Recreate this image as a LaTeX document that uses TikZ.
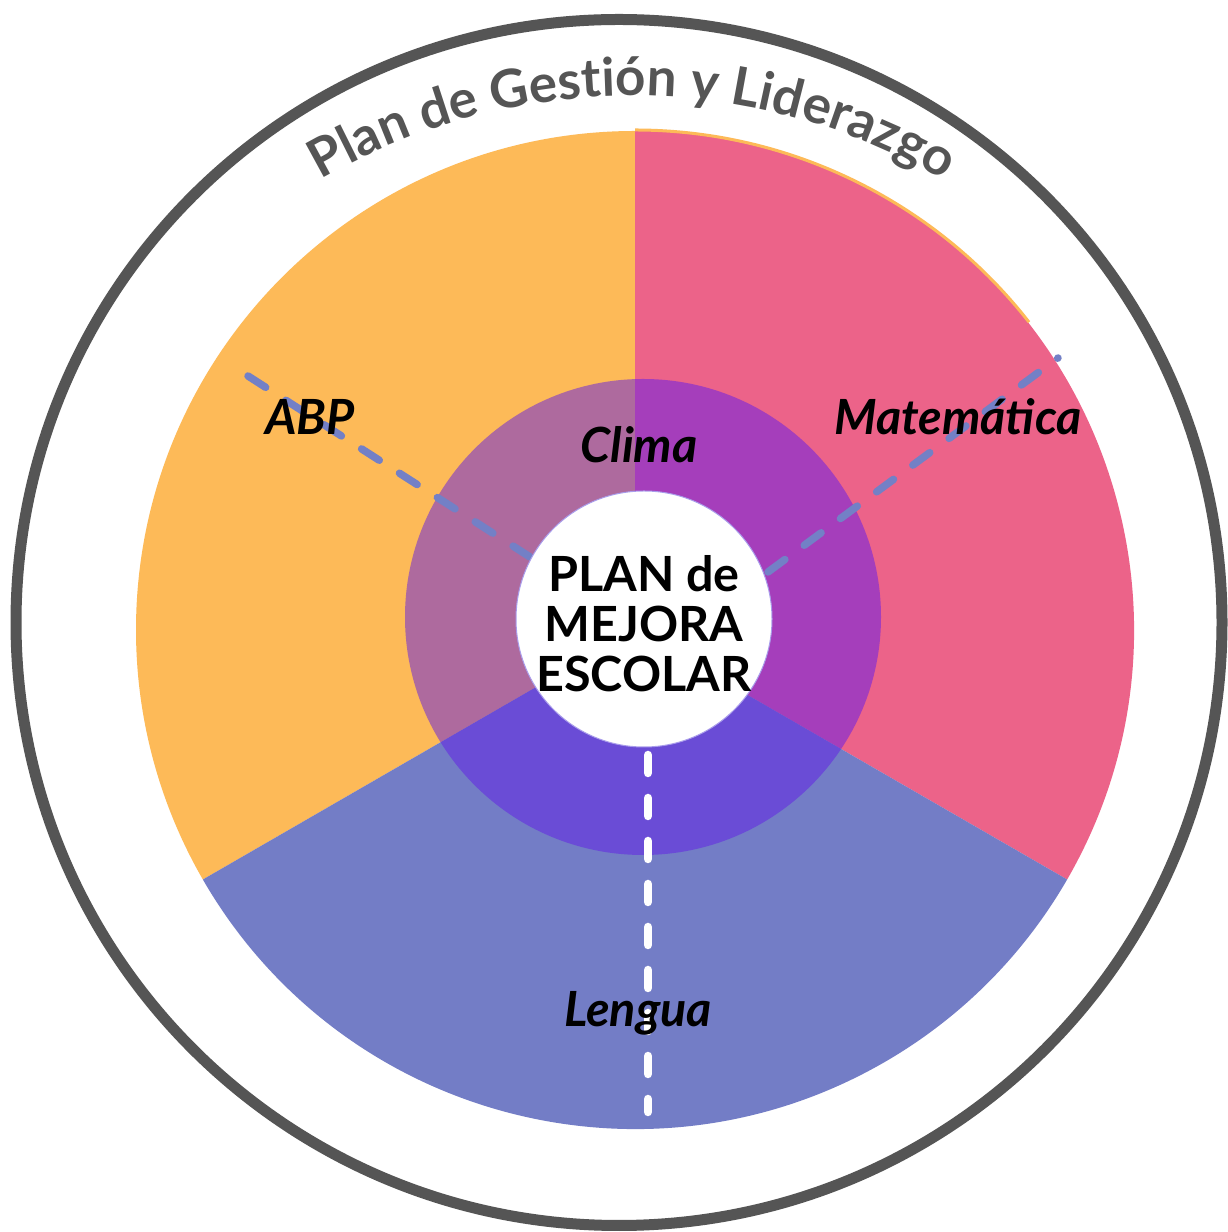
\documentclass[tikz,border=0pt]{standalone}
\usepackage{fontspec}
\setmainfont{Lato}
\usetikzlibrary{decorations.text}
\definecolor{ringgray}{HTML}{555555}
\definecolor{orangeS}{HTML}{FDBA58}
\definecolor{pinkS}{HTML}{EC6389}
\definecolor{blueS}{HTML}{737DC6}
\definecolor{mauveS}{HTML}{AE6A9E}
\definecolor{purpleS}{HTML}{A53EBB}
\definecolor{violetS}{HTML}{6A4CD6}
\definecolor{dashblue}{HTML}{7380C6}
\definecolor{coreedge}{HTML}{A99CEB}
\begin{document}
\begin{tikzpicture}[x=1pt,y=1pt,
  lbl/.style={font=\fontsize{48.5}{52}\selectfont\bfseries\itshape, text=black, inner sep=0pt, anchor=base},
  coretext/.style={font=\fontsize{48.5}{52}\selectfont\bfseries, text=black, inner sep=0pt, anchor=base},
  bluedash/.style={draw=dashblue, line width=7.5pt, line cap=round, dash pattern=on 21pt off 24pt},
  whitedash/.style={draw=white, line width=8.5pt, line cap=round, dash pattern=on 18pt off 25pt},
]
\fill[white] (0,0) rectangle (1228,1232);
\useasboundingbox (0,0) rectangle (1228,1232);

% outer ring
\node[circle, draw=ringgray, line width=11pt, minimum size=1206pt, inner sep=0pt] (outer) at (619,609.5) {};

% pie
\coordinate (pc) at (635,602);
\fill[orangeS] (pc) -- ++(90:499) arc (90:210:499) -- cycle;
\fill[pinkS] (pc) -- ++(-30:499) arc (-30:90:499) -- cycle;
\fill[blueS] (pc) -- ++(210:499) arc (210:330:499) -- cycle;
\draw[orangeS, line width=3pt] ([shift={(90:500)}]pc) arc (90:38:500);

% inner ring
\coordinate (ic) at (643,615);
\begin{scope}
  \clip (ic) circle (238);
  \fill[mauveS] (pc) -- ++(90:600) arc (90:210:600) -- cycle;
  \fill[purpleS] (pc) -- ++(-30:600) arc (-30:90:600) -- cycle;
  \fill[violetS] (pc) -- ++(210:600) arc (210:330:600) -- cycle;
\end{scope}

% dashed spokes
\coordinate (abpO) at (248,856);
\coordinate (abpI) at (530,675);
\coordinate (matI) at (768,660);
\coordinate (matO) at (1058,874);
\coordinate (lenI) at (648,477);
\coordinate (lenO) at (648,120);
\draw[bluedash] (abpO) -- (abpI);
\draw[bluedash] (matI) -- (matO);
\draw[whitedash] (lenI) -- (lenO);

% core
\node[circle, fill=white, draw=coreedge, line width=1pt, minimum size=256pt, inner sep=0pt] (core) at (644,613) {};
\node[coretext] (c1) at (644,640) {PLAN de};
\node[coretext] (c2) at (644,590) {MEJORA};
\node[coretext] (c3) at (644,540) {ESCOLAR};

% labels
\node[lbl] (clima) at (639,769) {Clima};
\node[lbl] (abp) at (310,797) {ABP};
\node[lbl] (mat) at (958,797) {Matemática};
\node[lbl] (len) at (638,205) {Lengua};

% title along arc
\path[decorate, decoration={text along path, text align=center,
  text={|\fontsize{53}{60}\selectfont\bfseries\color{ringgray}|Plan de Gestión y Liderazgo}}]
  (95.1,826) arc (150:30:620);
\end{tikzpicture}
\end{document}
